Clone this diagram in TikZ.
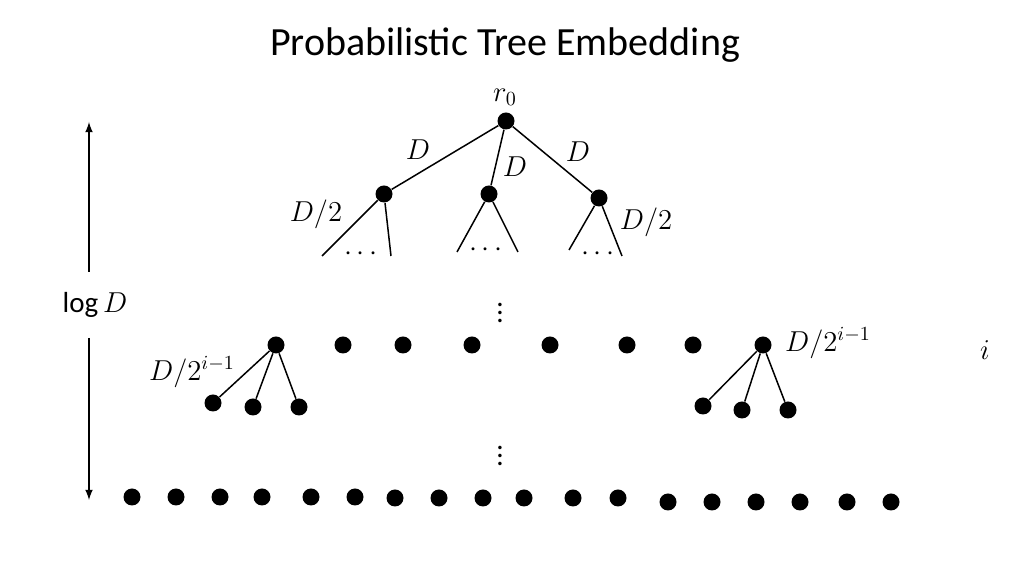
\documentclass[tikz,border=0pt]{standalone}
\usepackage{fontspec}
\setmainfont{Carlito}
\begin{document}
\begin{tikzpicture}[x=0.5pt,y=-0.5pt,
  dot/.style={circle,fill=black,inner sep=0pt,minimum size=8.5pt},
  lab/.style={font=\fontsize{14.5}{17}\selectfont},
  edge/.style={line width=0.75pt}]
\useasboundingbox (0,0) rectangle (1024,576);
\node[font=\fontsize{20}{24}\selectfont] (title) at (505,45) {Probabilistic Tree Embedding};
% top tree
\node[dot] (r) at (506,121) {};
\node[lab] (rl) at (505,97) {$r_0$};
\node[dot] (a) at (384,194) {};
\node[dot] (b) at (489,194) {};
\node[dot] (c) at (599,198) {};
\draw[edge] (r)--(a) (r)--(b) (r)--(c);
\node[lab] at (418,150) {$D$};
\node[lab] at (515,167) {$D$};
\node[lab] at (578,152) {$D$};
\node[lab] at (316,214) {$D/2$};
\node[lab] at (646,222) {$D/2$};
\coordinate (a1) at (322,256); \coordinate (a2) at (391,256);
\coordinate (b1) at (457,252); \coordinate (b2) at (518,252);
\coordinate (c1) at (569,250); \coordinate (c2) at (622,256);
\draw[edge] (a)--(a1) (a)--(a2) (b)--(b1) (b)--(b2) (c)--(c1) (c)--(c2);
\node[lab] at (361,254) {$\cdots$};
\node[lab] at (486,250) {$\cdots$};
\node[lab] at (598,254) {$\cdots$};
\node[lab,inner sep=0pt] at (500,307) {$\vdots$};
\node[lab,inner sep=0pt] at (500,450) {$\vdots$};
% arrow
\node[lab] (ld) at (95,305) {$\log D$};
\coordinate (t) at (89,122); \coordinate (bt) at (89,500);
\draw[edge,-latex] (89,272) -- (t);
\draw[edge,-latex] (89,338) -- (bt);
% row i
\foreach \x [count=\k] in {276,343,403,472,550,627,693,763} \node[dot] (m\k) at (\x,345) {};
\node[dot] (l1) at (213,403) {}; \node[dot] (l2) at (253,407) {}; \node[dot] (l3) at (299,407) {};
\node[dot] (q1) at (703,406) {}; \node[dot] (q2) at (742,410) {}; \node[dot] (q3) at (788,410) {};
\draw[edge] (m1)--(l1) (m1)--(l2) (m1)--(l3) (m8)--(q1) (m8)--(q2) (m8)--(q3);
\node[lab] at (192,372) {$D/2^{i-1}$};
\node[lab] at (828,343) {$D/2^{i-1}$};
\node[lab] at (985,350) {$i$};
% bottom row
\foreach \x/\y [count=\k] in {132/497,176/497,220/497,262/497,311/497,355/497,395/498,439/498,483/498,524/498,573/498,618/498,668/502,712/502,756/502,800/502,847/502,891/502}
  \node[dot] (z\k) at (\x,\y) {};
\end{tikzpicture}
\end{document}
